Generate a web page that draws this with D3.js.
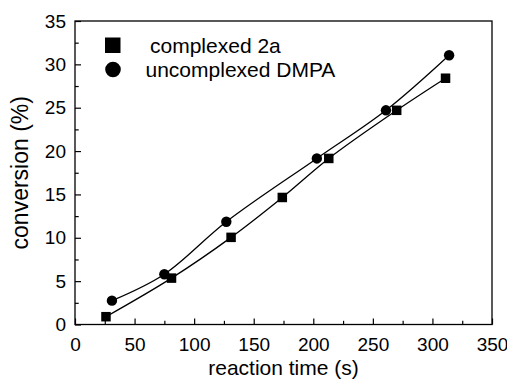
<!DOCTYPE html>
<html>
<head>
<meta charset="utf-8">
<script src="https://cdn.jsdelivr.net/npm/d3@7"></script>
<style>
body { margin: 0; background: #fff; }
text { font-family: "Liberation Sans", Arial, sans-serif; }
</style>
</head>
<body>
<div id="chart_area"></div>
<script>
// complexed 2a (squares)
var timeA = [26, 81, 131, 174, 213, 270, 311];
var convA = [0.9, 5.35, 10.05, 14.65, 19.15, 24.7, 28.4];
// uncomplexed DMPA (circles)
var timeB = [31, 75, 127, 203, 261, 314];
var convB = [2.75, 5.8, 11.85, 19.15, 24.7, 31.05];

var xTicks = [0, 50, 100, 150, 200, 250, 300, 350];
var yTicks = [0, 5, 10, 15, 20, 25, 30, 35];
var xMinor = [25, 75, 125, 175, 225, 275, 325];
var yMinor = [2.5, 7.5, 12.5, 17.5, 22.5, 27.5, 32.5];

var seriesNames = ["complexed 2a", "uncomplexed DMPA"];

var margin = { top: 21, right: 15, bottom: 55.5, left: 75 };
var frameW = 507, frameH = 380;
var w = frameW - margin.left - margin.right;
var h = frameH - margin.top - margin.bottom;

var svg = d3.select("#chart_area").append("svg")
  .attr("width", frameW).attr("height", frameH);
var g = svg.append("g")
  .attr("transform", "translate(" + margin.left + "," + margin.top + ")");

var x = d3.scaleLinear().domain([0, 350]).range([0, w]);
var y = d3.scaleLinear().domain([0, 35]).range([h, 0]);

// minor ticks
g.append("g").attr("transform", "translate(0," + h + ")")
  .call(d3.axisBottom(x).tickValues(xMinor).tickSize(-3.7).tickFormat(""))
  .call(function(a){ a.select(".domain").remove(); });
g.append("g")
  .call(d3.axisLeft(y).tickValues(yMinor).tickSize(-3.7).tickFormat(""))
  .call(function(a){ a.select(".domain").remove(); });

// major ticks
var xa = g.append("g").attr("transform", "translate(0," + h + ")")
  .call(d3.axisBottom(x).tickValues(xTicks).tickSize(-6).tickPadding(13).tickFormat(d3.format("d")));
var ya = g.append("g")
  .call(d3.axisLeft(y).tickValues(yTicks).tickSize(-6).tickPadding(9).tickFormat(d3.format("d")));
[xa, ya].forEach(function(a){
  a.select(".domain").remove();
  a.selectAll("text").attr("font-size", 19).attr("fill", "#000")
    .attr("font-family", "Liberation Sans, Arial, sans-serif");
});
g.selectAll(".tick line").attr("stroke", "#000").attr("stroke-width", 1.2);

// frame
g.append("rect").attr("width", w).attr("height", h)
  .attr("fill", "none").attr("stroke", "#000").attr("stroke-width", 1.3);

// lines
var line = d3.line()
  .x(function(d){ return x(d[0]); })
  .y(function(d){ return y(d[1]); })
  .curve(d3.curveCatmullRom);

var ptsA = timeA.map(function(t, i){ return [t, convA[i]]; });
var ptsB = timeB.map(function(t, i){ return [t, convB[i]]; });

g.append("path").datum(ptsA).attr("d", line)
  .attr("fill", "none").attr("stroke", "#000").attr("stroke-width", 1.3);
g.append("path").datum(ptsB).attr("d", line)
  .attr("fill", "none").attr("stroke", "#000").attr("stroke-width", 1.3);

// markers
var sq = 9.5;
g.selectAll(".sq").data(ptsA).enter().append("rect")
  .attr("x", function(d){ return x(d[0]) - sq / 2; })
  .attr("y", function(d){ return y(d[1]) - sq / 2; })
  .attr("width", sq).attr("height", sq).attr("fill", "#000");
g.selectAll(".ci").data(ptsB).enter().append("circle")
  .attr("cx", function(d){ return x(d[0]); })
  .attr("cy", function(d){ return y(d[1]); })
  .attr("r", 5.2).attr("fill", "#000");

// legend
svg.append("rect").attr("x", 105).attr("y", 37.5).attr("width", 15.5).attr("height", 15.5).attr("fill", "#000");
svg.append("circle").attr("cx", 113).attr("cy", 69.5).attr("r", 7.8).attr("fill", "#000");
svg.append("text").attr("x", 150).attr("y", 52.5).attr("font-size", 21).text(seriesNames[0]);
svg.append("text").attr("x", 145.5).attr("y", 76.5).attr("font-size", 21).text(seriesNames[1]);

// axis titles
svg.append("text").attr("x", margin.left + w / 2).attr("y", 375)
  .attr("text-anchor", "middle").attr("font-size", 21).text("reaction time (s)");
svg.append("text")
  .attr("transform", "translate(28," + (margin.top + h / 2) + ") rotate(-90)")
  .attr("text-anchor", "middle").attr("font-size", 23).text("conversion (%)");
</script>
</body>
</html>
